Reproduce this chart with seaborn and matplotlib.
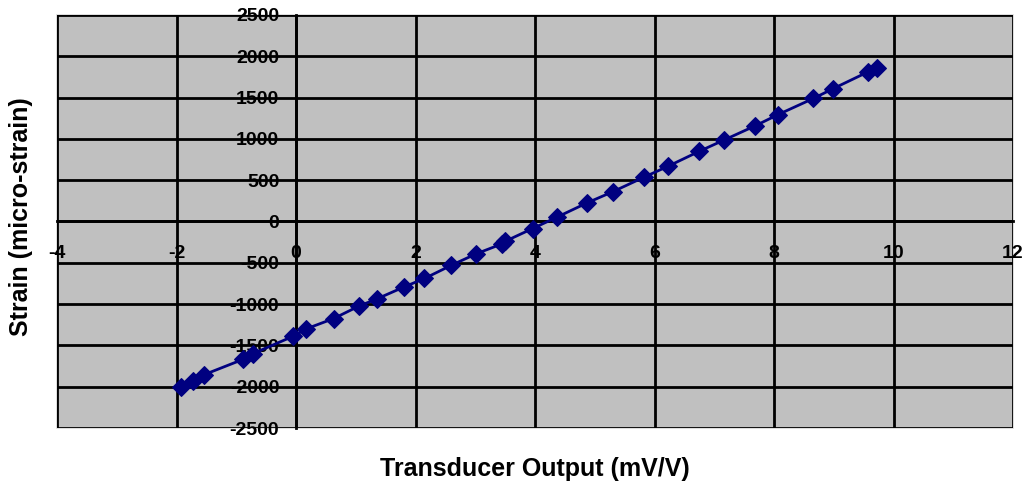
import matplotlib
matplotlib.use("Agg")
import matplotlib.pyplot as plt
import seaborn as sns

# Transducer calibration readings
output_mv_v = [-1.93, -1.72, -1.54, -0.89, -0.72, -0.05, 0.17, 0.63, 1.05, 1.36,
               1.80, 2.15, 2.60, 3.02, 3.45, 3.50, 3.96, 4.36, 4.87, 5.30,
               5.82, 6.23, 6.75, 7.16, 7.69, 8.07, 8.66, 8.98, 9.57, 9.73]
strain = [-2000, -1935, -1855, -1670, -1600, -1390, -1300, -1175, -1025, -935,
          -795, -690, -530, -390, -270, -240, -85, 50, 225, 360,
          535, 670, 850, 985, 1160, 1295, 1490, 1605, 1810, 1860]

x_ticks = [-4, -2, 0, 2, 4, 6, 8, 10, 12]
y_ticks = [-2500, -2000, -1500, -1000, -500, 0, 500, 1000, 1500, 2000, 2500]

NAVY = "#000080"
PLOT_BG = "#C0C0C0"

sns.set_style("white")
plt.rcParams["font.family"] = ["Liberation Sans", "DejaVu Sans"]
plt.rcParams["text.color"] = "black"
plt.rcParams["axes.labelcolor"] = "black"
plt.rcParams["xtick.color"] = "black"
plt.rcParams["ytick.color"] = "black"

fig = plt.figure(figsize=(10.29, 4.86), dpi=100)
ax = fig.add_axes([57 / 1029, 58 / 486, 956 / 1029, 413 / 486])
ax.set_facecolor(PLOT_BG)

sns.lineplot(x=output_mv_v, y=strain, ax=ax, sort=False, color=NAVY,
             linewidth=2, marker="D", markersize=9, markeredgecolor=NAVY,
             markerfacecolor=NAVY, zorder=5)

ax.set_xlim(-4, 12)
ax.set_ylim(-2500, 2500)
ax.set_xticks(x_ticks)
ax.set_yticks(y_ticks)
ax.set_xticklabels([str(t) for t in x_ticks])
ax.set_yticklabels([str(t) for t in y_ticks])

# Excel-style black grid, plot-area border instead of the outer gridlines
ax.grid(True, color="black", linewidth=2)
ax.set_axisbelow(True)
for ticks in (ax.xaxis.get_major_ticks(), ax.yaxis.get_major_ticks()):
    ticks[0].gridline.set_visible(False)
    ticks[-1].gridline.set_visible(False)
ax.patch.set_edgecolor("#D8D8D8")
ax.patch.set_linewidth(1.2)

# axes cross at the origin
ax.spines["left"].set_position(("data", 0))
ax.spines["bottom"].set_position(("data", 0))
ax.spines["top"].set_visible(False)
ax.spines["right"].set_visible(False)
for s in ("left", "bottom"):
    ax.spines[s].set_linewidth(2)
    ax.spines[s].set_color("black")
    ax.spines[s].set_zorder(3)

ax.tick_params(axis="both", direction="out", length=5, width=2, color="black",
               labelsize=14, labelcolor="black")
ax.tick_params(axis="x", pad=12)
ax.tick_params(axis="y", pad=7)
for lbl in ax.get_xticklabels() + ax.get_yticklabels():
    lbl.set_fontweight("bold")

ax.set_xlabel("Transducer Output (mV/V)", fontsize=18, fontweight="bold")
ax.xaxis.set_label_coords(0.5, -0.099)
ax.xaxis.label.set_va("center")
ax.set_ylabel("Strain (micro-strain)", fontsize=18, fontweight="bold")
ax.yaxis.set_label_coords(-0.0377, 0.513)
ax.yaxis.label.set_va("center")

fig.savefig("out.png", dpi=100, facecolor="white")
plt.close(fig)
